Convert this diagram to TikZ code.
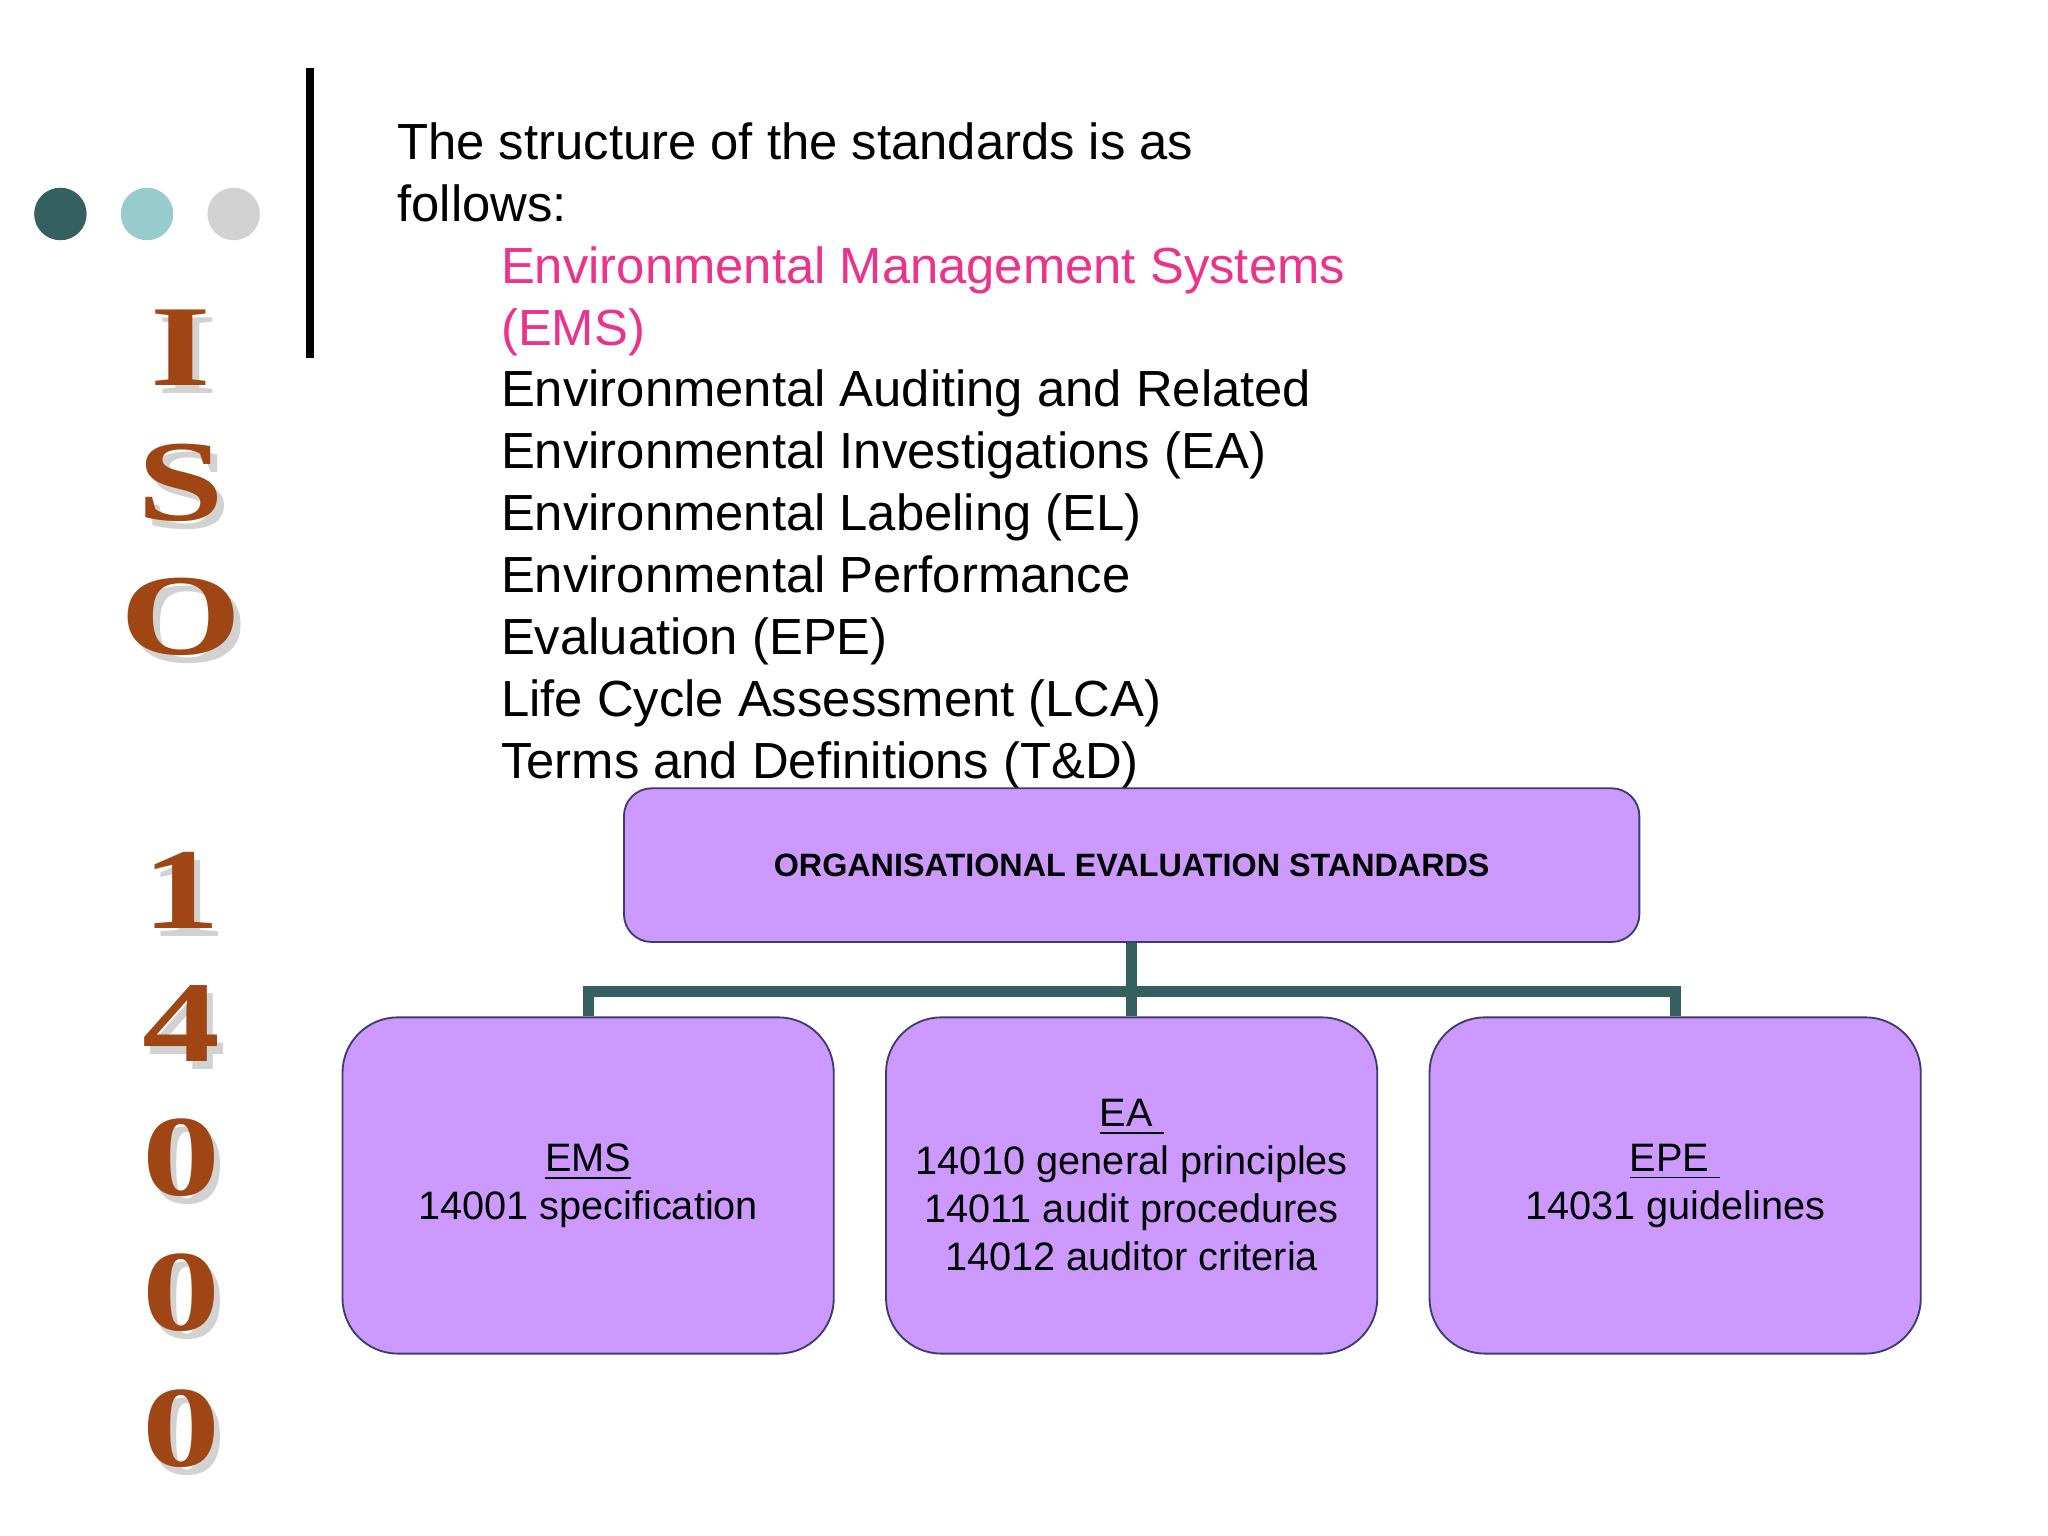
\documentclass[tikz,border=0pt]{standalone}
\usepackage{fontspec}
\setmainfont{Liberation Sans}
\newfontfamily\isofont{Liberation Serif}
\usetikzlibrary{positioning}
\definecolor{teal}{RGB}{53,96,96}
\definecolor{lteal}{RGB}{152,204,204}
\definecolor{lgray}{RGB}{210,210,210}
\definecolor{violet}{RGB}{204,153,255}
\definecolor{edge}{RGB}{60,60,110}
\definecolor{pink}{RGB}{236,50,140}
\definecolor{brown}{RGB}{160,70,20}
\begin{document}
\begin{tikzpicture}[x=0.01cm,y=-0.01cm]
\tikzstyle{box}=[draw=edge,fill=violet,rounded corners=12pt,align=center,inner sep=0pt,font=\fontsize{8.6}{10.4}\selectfont,minimum width=3.74cm,minimum height=2.56cm]
\tikzstyle{link}=[draw=teal,line width=2.4pt]
\tikzstyle{letter}=[font=\isofont\bfseries\fontsize{25}{25}\selectfont,text=brown,xscale=1.35]
\tikzstyle{shade}=[font=\isofont\bfseries\fontsize{25}{25}\selectfont,text=lgray,xscale=1.35]
\useasboundingbox (0,0) rectangle (1560,1170);
% dots and bar
\fill[teal] (46,163) circle (20);
\fill[lteal] (112,163) circle (20);
\fill[lgray] (178,163) circle (20);
\fill[black] (233,52) rectangle (239,273);
% ISO 14000
\foreach \c/\y [count=\i] in {I/265,S/368,O/470,1/678,4/780,0/882,0/985,0/1088}{
  \node[shade] (s\i) at (143,\y+6) {\c};
  \node[letter] (l\i) at (138,\y) {\c};
}
% text
\node[anchor=north west,align=left,font=\fontsize{11}{13.4}\selectfont,inner sep=0pt] (intro) at (302,93)
  {The structure of the standards is as\\follows:};
\node[anchor=north west,align=left,font=\fontsize{11}{13.4}\selectfont,inner sep=0pt] (list) at (381,187)
  {\textcolor{pink}{Environmental Management Systems}\\
   \textcolor{pink}{(EMS)}\\
   Environmental Auditing and Related\\
   Environmental Investigations (EA)\\
   Environmental Labeling (EL)\\
   Environmental Performance\\
   Evaluation (EPE)\\
   Life Cycle Assessment (LCA)\\
   Terms and Definitions (T\&D)};
% chart
\node[box,rounded corners=6pt,minimum width=7.73cm,minimum height=1.17cm,font=\bfseries\fontsize{7}{9}\selectfont] (top) at (862,659) {ORGANISATIONAL EVALUATION STANDARDS};
\coordinate (j) at (862,755);
\node[box] (ems) at (448,903) {\underline{EMS}\\14001 specification};
\node[box] (ea) at (862,903) {\underline{EA\ }\\14010 general principles\\14011 audit procedures\\14012 auditor criteria};
\node[box] (epe) at (1276,903) {\underline{EPE\ }\\14031 guidelines};
\draw[link] (top.south) -- (j);
\draw[link] (ems.north) -- (ems.north |- j) -- (epe.north |- j) -- (epe.north);
\draw[link] (ea.north) -- (j);
\end{tikzpicture}
\end{document}
